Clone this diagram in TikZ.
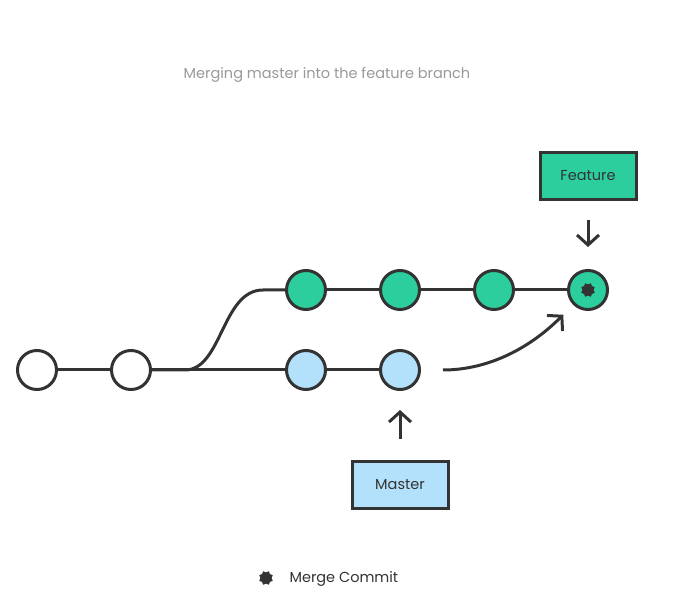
\documentclass[tikz,border=0pt]{standalone}
\usepackage{fontspec}
\setmainfont{Poppins}
\usetikzlibrary{arrows.meta, positioning}
\definecolor{featuregreen}{HTML}{2DCE9D}
\definecolor{masterblue}{HTML}{B3E0FA}
\definecolor{inkgray}{HTML}{333333}
\definecolor{titlegray}{HTML}{999999}
\tikzstyle{commit} = [circle, minimum size=39pt, inner sep=0pt, line width=3pt, draw=inkgray, fill=white, text=inkgray]
\tikzstyle{featurecommit} = [commit, fill=featuregreen]
\tikzstyle{mastercommit} = [commit, fill=masterblue]
\tikzstyle{branchbox} = [rectangle, minimum width=96pt, minimum height=47pt, line width=3pt, draw=inkgray, text=inkgray, font=\fontsize{14.5}{17}\selectfont]
\tikzstyle{link} = [line width=3pt, draw=inkgray]
\tikzstyle{arrow} = [link, -{Straight Barb[length=10pt, width=22pt]}]
\tikzstyle{mergemark} = [path picture={
		\fill [inkgray] (path picture bounding box.center) circle (5pt);
		\foreach \a in {0,45,...,315}
			\draw [inkgray, line width=3.8pt, line cap=round] (path picture bounding box.center) -- ++(\a+22.5:5.4pt);
	}]

\begin{document}
\begin{tikzpicture}[x=1pt, y=1pt, node distance=94pt]
		\useasboundingbox (0,0) rectangle (696,603);
	
		% Draw the nodes
		\node (title) [text=titlegray, font=\fontsize{14.5}{17}\selectfont] at (327,528) {Merging master into the feature branch};
		\node (c1) [commit] at (37,233) {};
		\node (c2) [commit, right of=c1] {};
		\node (b1) [mastercommit, right of=c2, xshift=81pt] {};
		\node (b2) [mastercommit, right of=b1] {};
		\node (g1) [featurecommit, above of=b1, yshift=-14pt] {};
		\node (g2) [featurecommit, right of=g1] {};
		\node (g3) [featurecommit, right of=g2] {};
		\node (merge) [featurecommit, mergemark, right of=g3] {};
		\node (feature) [branchbox, fill=featuregreen, above of=merge, yshift=20pt] {Feature};
		\node (master) [branchbox, fill=masterblue, below of=b2, yshift=-21pt] {Master};
		\node (legstar) [circle, minimum size=18pt, mergemark] at (266,25) {};
		\node (legend) [text=inkgray, anchor=west, font=\fontsize{14.5}{17}\selectfont] at (286,24) {Merge Commit};
		
		%Draw the arrows
		\draw [link] (c1) -- (c2);
		\draw [link] (c2) -- (b1);
		\draw [link] (b1) -- (b2);
		\draw [link] (c2.east) -- ++(33,0) .. controls +(37,0) and +(-41,0) .. ++(78,80) -- (g1);
		\draw [link] (g1) -- (g2);
		\draw [link] (g2) -- (g3);
		\draw [link] (g3) -- (merge);
		\draw [arrow, shorten <=22pt, shorten >=14pt] (b2) to[out=0, in=225] (merge);
		\draw [arrow, shorten <=19pt, shorten >=22pt] (feature) -- (merge);
		\draw [arrow, shorten <=21pt, shorten >=19pt] (master) -- (b2);
	
	\end{tikzpicture}
\end{document}
